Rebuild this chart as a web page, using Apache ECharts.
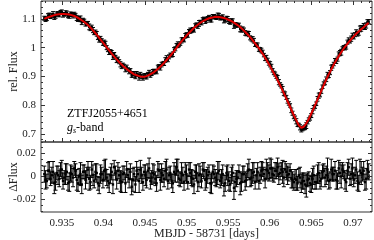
<!DOCTYPE html>
<html><head><meta charset="utf-8">
<script src="https://cdn.jsdelivr.net/npm/echarts@6/dist/echarts.min.js"></script>
<style>html,body{margin:0;padding:0;background:#fff}#c{width:374px;height:240px}</style>
</head><body><div id="c"></div>
<script>
// observation set A
const times=[0.9329,0.9332,0.9335,0.9338,0.9341,0.9344,0.9347,0.9350,0.9353,0.9356,
0.9359,0.9362,0.9365,0.9368,0.9371,0.9374,0.9377,0.9380,0.9383,0.9386,
0.9389,0.9392,0.9395,0.9398,0.9401,0.9404,0.9407,0.9410,0.9413,0.9416,
0.9419,0.9422,0.9425,0.9428,0.9431,0.9434,0.9437,0.9440,0.9443,0.9446,
0.9449,0.9452,0.9455,0.9458,0.9461,0.9464,0.9467,0.9470,0.9473,0.9476,
0.9479,0.9482,0.9485,0.9488,0.9491,0.9494,0.9497,0.9500,0.9503,0.9506,
0.9509,0.9512,0.9515,0.9518,0.9521,0.9524,0.9527,0.9530,0.9533,0.9536,
0.9539,0.9542,0.9545,0.9548,0.9551,0.9554,0.9557,0.9560,0.9563,0.9566,
0.9569,0.9572,0.9575,0.9578,0.9581,0.9584,0.9587,0.9590,0.9593,0.9596,
0.9599,0.9602,0.9605,0.9608,0.9611,0.9614,0.9617,0.9620,0.9623,0.9626,
0.9629,0.9632,0.9635,0.9638,0.9641,0.9644,0.9647,0.9650,0.9653,0.9656,
0.9659,0.9662,0.9665,0.9668,0.9671,0.9674,0.9677,0.9680,0.9683,0.9686,
0.9689,0.9692,0.9695,0.9698,0.9701,0.9704,0.9707,0.9710,0.9713,0.9716,
0.9719];
const model=[1.100,1.104,1.107,1.110,1.113,1.115,1.116,1.117,1.117,1.116,
1.115,1.113,1.110,1.106,1.101,1.095,1.089,1.082,1.074,1.065,
1.055,1.045,1.034,1.023,1.012,1.001,0.990,0.979,0.969,0.959,
0.950,0.941,0.933,0.926,0.919,0.913,0.907,0.904,0.901,0.899,
0.899,0.901,0.905,0.910,0.915,0.922,0.930,0.938,0.947,0.957,
0.967,0.977,0.988,0.999,1.011,1.022,1.032,1.042,1.051,1.060,
1.069,1.076,1.083,1.089,1.094,1.098,1.102,1.104,1.106,1.107,
1.106,1.105,1.103,1.100,1.096,1.092,1.087,1.081,1.075,1.067,
1.059,1.050,1.041,1.031,1.020,1.009,0.998,0.985,0.972,0.958,
0.943,0.927,0.911,0.895,0.878,0.860,0.842,0.823,0.804,0.784,
0.765,0.747,0.730,0.721,0.725,0.737,0.752,0.771,0.790,0.810,
0.830,0.850,0.870,0.889,0.907,0.924,0.941,0.956,0.971,0.984,
0.997,1.008,1.019,1.029,1.039,1.048,1.056,1.064,1.071,1.079,
1.086];
const resid=[0.002,-0.004,0.005,0.001,-0.006,0.003,-0.002,0.006,-0.001,0.004,
-0.005,0.002,0.007,-0.003,0.000,-0.007,0.004,0.001,-0.002,0.006,
-0.004,0.003,-0.008,0.002,0.005,-0.001,-0.006,0.004,0.008,-0.003,
0.001,-0.005,0.003,0.006,-0.002,-0.009,0.002,0.005,-0.004,0.001,
0.004,-0.003,0.007,-0.001,0.002,-0.006,0.005,0.003,-0.002,0.006,
0.001,-0.004,0.004,0.008,-0.002,0.003,-0.005,0.002,0.006,-0.001,
-0.007,0.003,0.001,-0.004,0.005,-0.002,0.004,-0.006,0.002,-0.003,
0.005,-0.001,-0.008,0.003,-0.004,0.001,-0.010,-0.002,0.004,-0.005,
0.002,-0.003,0.006,-0.001,0.004,0.001,-0.004,0.005,0.002,0.006,
0.003,0.007,0.001,0.005,0.002,0.006,-0.001,0.004,0.002,-0.002,
-0.005,-0.003,0.001,-0.006,-0.004,-0.008,-0.002,-0.007,0.001,-0.005,
0.003,-0.002,0.005,0.001,-0.004,0.006,0.002,-0.003,0.007,0.000,
0.004,-0.005,0.008,0.002,-0.003,0.006,-0.006,0.003,0.005,-0.002,
0.004];
const errs=[0.007,0.006,0.008,0.007,0.009,0.006,0.007,0.008,0.006,0.007,
0.008,0.007,0.006,0.009,0.007,0.008,0.006,0.007,0.010,0.007,
0.006,0.008,0.007,0.006,0.009,0.007,0.008,0.007,0.006,0.008,
0.007,0.009,0.006,0.007,0.008,0.007,0.006,0.008,0.010,0.007,
0.006,0.007,0.009,0.006,0.008,0.007,0.006,0.008,0.007,0.009,
0.007,0.006,0.008,0.007,0.006,0.009,0.007,0.008,0.006,0.007,
0.008,0.007,0.010,0.006,0.007,0.008,0.006,0.009,0.007,0.006,
0.008,0.007,0.009,0.006,0.008,0.007,0.010,0.007,0.006,0.008,
0.007,0.006,0.009,0.007,0.008,0.006,0.007,0.008,0.006,0.009,
0.007,0.008,0.006,0.007,0.009,0.006,0.008,0.007,0.006,0.008,
0.007,0.009,0.006,0.008,0.007,0.010,0.006,0.007,0.008,0.006,
0.009,0.007,0.006,0.008,0.007,0.009,0.006,0.008,0.007,0.010,
0.006,0.008,0.007,0.009,0.006,0.008,0.007,0.010,0.008,0.009,
0.007];
// observation set B (interleaved exposures)
const timesB=[0.93305,0.93335,0.93365,0.93395,0.93425,0.93455,0.93485,0.93515,0.93545,0.93575,
0.93605,0.93635,0.93665,0.93695,0.93725,0.93755,0.93785,0.93815,0.93845,0.93875,
0.93905,0.93935,0.93965,0.93995,0.94025,0.94055,0.94085,0.94115,0.94145,0.94175,
0.94205,0.94235,0.94265,0.94295,0.94325,0.94355,0.94385,0.94415,0.94445,0.94475,
0.94505,0.94535,0.94565,0.94595,0.94625,0.94655,0.94685,0.94715,0.94745,0.94775,
0.94805,0.94835,0.94865,0.94895,0.94925,0.94955,0.94985,0.95015,0.95045,0.95075,
0.95105,0.95135,0.95165,0.95195,0.95225,0.95255,0.95285,0.95315,0.95345,0.95375,
0.95405,0.95435,0.95465,0.95495,0.95525,0.95555,0.95585,0.95615,0.95645,0.95675,
0.95705,0.95735,0.95765,0.95795,0.95825,0.95855,0.95885,0.95915,0.95945,0.95975,
0.96005,0.96035,0.96065,0.96095,0.96125,0.96155,0.96185,0.96215,0.96245,0.96275,
0.96305,0.96335,0.96365,0.96395,0.96425,0.96455,0.96485,0.96515,0.96545,0.96575,
0.96605,0.96635,0.96665,0.96695,0.96725,0.96755,0.96785,0.96815,0.96845,0.96875,
0.96905,0.96935,0.96965,0.96995,0.97025,0.97055,0.97085,0.97115,0.97145,0.97175];
const modelB=[1.102,1.106,1.109,1.112,1.114,1.116,1.117,1.117,1.117,1.116,
1.114,1.112,1.108,1.104,1.098,1.092,1.086,1.078,1.070,1.060,
1.050,1.040,1.029,1.018,1.007,0.996,0.985,0.974,0.964,0.955,
0.946,0.937,0.930,0.923,0.916,0.910,0.906,0.903,0.900,0.899,
0.900,0.903,0.908,0.913,0.919,0.926,0.934,0.943,0.952,0.962,
0.972,0.983,0.994,1.005,1.017,1.027,1.037,1.047,1.056,1.065,
1.073,1.080,1.086,1.092,1.096,1.100,1.103,1.105,1.107,1.107,
1.106,1.104,1.102,1.098,1.094,1.090,1.084,1.078,1.071,1.063,
1.055,1.046,1.036,1.026,1.015,1.004,0.992,0.979,0.965,0.951,
0.935,0.919,0.903,0.887,0.869,0.851,0.833,0.814,0.794,0.775,
0.756,0.738,0.724,0.722,0.730,0.744,0.761,0.781,0.800,0.820,
0.840,0.860,0.880,0.898,0.916,0.933,0.949,0.964,0.978,0.991,
1.003,1.014,1.024,1.034,1.044,1.052,1.060,1.068,1.075,1.083];
const residB=[-0.003,0.005,-0.002,0.004,-0.005,0.001,0.006,-0.004,0.002,-0.006,
0.003,-0.001,0.005,-0.006,0.002,0.004,-0.003,0.006,-0.005,0.001,
0.004,-0.006,0.002,-0.003,0.006,-0.004,0.001,-0.007,0.003,0.005,
-0.004,0.002,-0.006,0.001,0.004,-0.003,-0.007,0.002,0.006,-0.005,
0.001,0.005,-0.004,0.003,-0.002,0.006,-0.003,0.001,0.005,-0.004,
0.003,-0.006,0.002,0.005,-0.003,0.001,0.004,-0.005,0.003,-0.002,
0.004,-0.005,0.002,0.006,-0.003,0.001,-0.006,0.004,-0.001,0.003,
-0.004,0.002,-0.006,0.001,-0.007,0.003,-0.005,-0.001,-0.006,0.002,
-0.004,0.005,-0.002,0.003,-0.005,0.004,0.001,0.006,-0.002,0.005,
0.007,0.002,0.005,0.008,0.003,0.004,0.006,0.001,0.005,-0.003,
-0.002,-0.006,-0.001,-0.004,-0.007,-0.003,-0.006,-0.002,-0.005,0.002,
-0.004,0.004,-0.001,0.006,-0.003,0.002,0.005,-0.004,0.003,0.006,
-0.003,0.005,-0.002,0.007,0.001,-0.004,0.005,0.002,-0.005,0.006];
const errsB=[0.008,0.007,0.006,0.009,0.007,0.008,0.006,0.007,0.009,0.006,
0.007,0.008,0.006,0.007,0.010,0.006,0.008,0.007,0.006,0.009,
0.007,0.006,0.008,0.007,0.009,0.006,0.007,0.008,0.006,0.007,
0.009,0.007,0.008,0.006,0.007,0.010,0.007,0.006,0.008,0.007,
0.009,0.006,0.007,0.008,0.006,0.007,0.009,0.006,0.008,0.007,
0.006,0.008,0.007,0.010,0.006,0.007,0.008,0.006,0.009,0.007,
0.006,0.008,0.007,0.006,0.009,0.007,0.008,0.006,0.007,0.010,
0.006,0.008,0.007,0.009,0.006,0.007,0.008,0.006,0.010,0.007,
0.008,0.006,0.007,0.009,0.006,0.008,0.007,0.006,0.008,0.007,
0.009,0.006,0.007,0.008,0.006,0.010,0.007,0.008,0.006,0.007,
0.008,0.006,0.009,0.007,0.008,0.006,0.007,0.009,0.006,0.008,
0.007,0.006,0.008,0.010,0.007,0.006,0.008,0.007,0.009,0.006,
0.008,0.007,0.006,0.009,0.007,0.008,0.010,0.006,0.007,0.008];
const xTicks=[0.935,0.94,0.945,0.95,0.955,0.96,0.965,0.97];
const xMinor=[0.933,0.934,0.936,0.937,0.938,0.939,0.941,0.942,0.943,0.944,0.946,0.947,0.948,0.949,
0.951,0.952,0.953,0.954,0.956,0.957,0.958,0.959,0.961,0.962,0.963,0.964,0.966,0.967,0.968,0.969,0.971,0.972];
const yTopTicks=[0.7,0.8,0.9,1,1.1];
const yTopMinor=[0.68,0.72,0.74,0.76,0.78,0.82,0.84,0.86,0.88,0.92,0.94,0.96,0.98,1.02,1.04,1.06,1.08,1.12,1.14,1.16];
const yBotTicks=[-0.02,0,0.02];
const yBotMinor=[-0.03,-0.025,-0.015,-0.01,-0.005,0.005,0.01,0.015,0.025,0.03];
const objName='ZTFJ2055+4651';
const xTitle='MBJD - 58731 [days]';

const XMIN=0.9325, XMAX=0.9723;
const FONT='Liberation Serif';
const AX='#333';
function fmt(v){return String(parseFloat(Number(v).toFixed(4)));}
function xa(grid,pos,ticks,len,label,extra){
  return Object.assign({type:'value',gridIndex:grid,position:pos,min:XMIN,max:XMAX,
    axisLine:{show:false},splitLine:{show:false},
    axisTick:{show:true,inside:true,length:len,customValues:ticks,lineStyle:{color:AX,width:1}},
    axisLabel:label?{show:true,customValues:ticks,formatter:fmt,fontFamily:FONT,fontSize:11,color:'#222',margin:6}:{show:false}
  },extra||{});
}
function ya(grid,pos,min,max,ticks,len,label,extra){
  return Object.assign({type:'value',gridIndex:grid,position:pos,min:min,max:max,
    axisLine:{show:false},splitLine:{show:false},
    axisTick:{show:true,inside:true,length:len,customValues:ticks,lineStyle:{color:AX,width:1}},
    axisLabel:label?{show:true,customValues:ticks,formatter:fmt,fontFamily:FONT,fontSize:11,color:'#222',margin:5}:{show:false}
  },extra||{});
}
const TMIN=0.672,TMAX=1.162,BMIN=-0.031,BMAX=0.030;
function errItem(params,api){
  const x=api.value(0),y=api.value(1),e=api.value(2);
  const p=api.coord([x,y]),t=api.coord([x,y+e]),b=api.coord([x,y-e]);
  const st={stroke:'#000',lineWidth:1};
  return {type:'group',children:[
    {type:'line',shape:{x1:p[0],y1:t[1],x2:p[0],y2:b[1]},style:st},
    {type:'line',shape:{x1:p[0]-2,y1:t[1],x2:p[0]+2,y2:t[1]},style:st},
    {type:'line',shape:{x1:p[0]-2,y1:b[1],x2:p[0]+2,y2:b[1]},style:st},
    {type:'rect',shape:{x:p[0]-1.2,y:p[1]-1.2,width:2.4,height:2.4},style:{fill:'#000'}}
  ]};
}
const topData=times.map((t,i)=>[t,model[i]+resid[i],errs[i]]).concat(timesB.map((t,i)=>[t,modelB[i]+residB[i],errsB[i]]));
const botData=times.map((t,i)=>[t,resid[i],errs[i]]).concat(timesB.map((t,i)=>[t,residB[i],errsB[i]]));
const modelData=times.map((t,i)=>[t,model[i]]);
const nameStyle={fontFamily:FONT,fontSize:12,color:'#222'};
const chart=echarts.init(document.getElementById('c'),null,{renderer:'canvas'});
chart.setOption({
  animation:false,
  backgroundColor:'#fff',
  grid:[
    {left:41,top:1,width:331,height:141,show:true,borderColor:AX,borderWidth:1,backgroundColor:'transparent',outerBoundsMode:'none',containLabel:false},
    {left:41,top:142,width:331,height:70,show:true,borderColor:AX,borderWidth:1,backgroundColor:'transparent',outerBoundsMode:'none',containLabel:false}
  ],
  title:{left:62,top:102,text:'{a|'+objName+'}\n{g|g}{s|s}{a|-band}',
    textStyle:{fontWeight:'normal',rich:{
      a:{fontFamily:FONT,fontSize:12,color:'#000',lineHeight:14},
      g:{fontFamily:FONT,fontSize:12,fontStyle:'italic',color:'#000',lineHeight:14},
      s:{fontFamily:FONT,fontSize:8,fontStyle:'italic',color:'#000',verticalAlign:'bottom',padding:[4,0,0,0],lineHeight:14}
    }}},
  xAxis:[
    xa(0,'bottom',xTicks,4,false),
    xa(0,'bottom',xMinor,2,false),
    xa(0,'top',xTicks,4,false),
    xa(0,'top',xMinor,2,false),
    xa(1,'bottom',xTicks,4,true,{name:xTitle,nameLocation:'middle',nameGap:16,nameMoveOverlap:false,nameTextStyle:nameStyle}),
    xa(1,'bottom',xMinor,2,false),
    xa(1,'top',xTicks,4,false),
    xa(1,'top',xMinor,2,false)
  ],
  yAxis:[
    ya(0,'left',TMIN,TMAX,yTopTicks,4,true,{name:'rel. Flux',nameLocation:'middle',nameGap:21,nameMoveOverlap:false,nameTextStyle:nameStyle}),
    ya(0,'left',TMIN,TMAX,yTopMinor,2,false),
    ya(0,'right',TMIN,TMAX,yTopTicks,4,false),
    ya(0,'right',TMIN,TMAX,yTopMinor,2,false),
    ya(1,'left',BMIN,BMAX,yBotTicks,4,true,{name:'ΔFlux',nameLocation:'middle',nameGap:21,nameMoveOverlap:false,nameTextStyle:nameStyle}),
    ya(1,'left',BMIN,BMAX,yBotMinor,2,false),
    ya(1,'right',BMIN,BMAX,yBotTicks,4,false),
    ya(1,'right',BMIN,BMAX,yBotMinor,2,false)
  ],
  series:[
    {type:'custom',xAxisIndex:0,yAxisIndex:0,renderItem:errItem,data:topData,encode:{x:0,y:1},clip:true,z:2},
    {type:'line',xAxisIndex:0,yAxisIndex:0,data:modelData,symbol:'none',lineStyle:{color:'#e00000',width:2},z:5,silent:true},
    {type:'custom',xAxisIndex:4,yAxisIndex:4,renderItem:errItem,data:botData,encode:{x:0,y:1},clip:true,z:2}
  ]
});
</script></body></html>
